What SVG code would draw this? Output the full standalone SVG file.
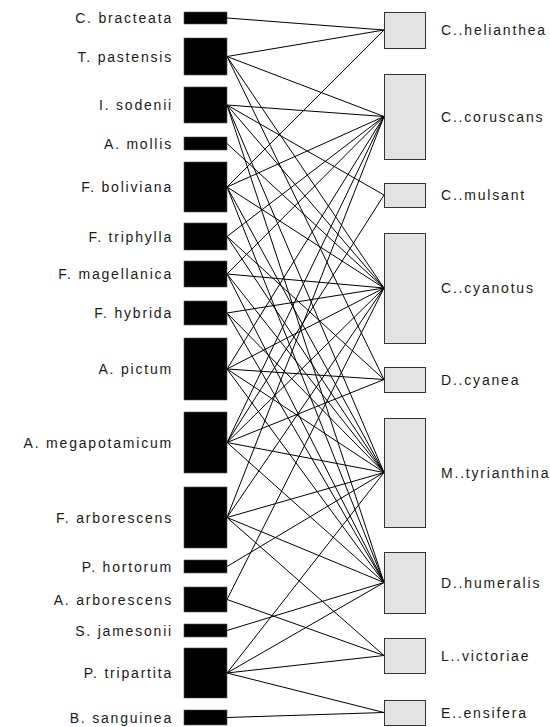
<svg xmlns="http://www.w3.org/2000/svg" width="550" height="727" viewBox="0 0 550 727">
<style>
.bg{fill:#ffffff}
.low rect{fill:#000000;stroke:#555555;stroke-width:0.6}
.high rect{fill:#e3e3e3;stroke:#333333;stroke-width:1}
.lab{font-family:"Liberation Sans",Arial,sans-serif;font-size:14px;letter-spacing:1.8px;fill:#1a1a1a}
.ll{text-anchor:end}
#links line{stroke:#000000;stroke-width:1;fill:none}
</style>
<rect class="bg" x="0" y="0" width="550" height="727"/>
<g id="links">
<line x1="227" y1="18" x2="384" y2="30"/>
<line x1="227" y1="56.5" x2="384" y2="30"/>
<line x1="227" y1="56.5" x2="384" y2="116.5"/>
<line x1="227" y1="56.5" x2="384" y2="288"/>
<line x1="227" y1="56.5" x2="384" y2="379.5"/>
<line x1="227" y1="105" x2="384" y2="116.5"/>
<line x1="227" y1="105" x2="384" y2="195"/>
<line x1="227" y1="105" x2="384" y2="288"/>
<line x1="227" y1="105" x2="384" y2="472.5"/>
<line x1="227" y1="105" x2="384" y2="582.5"/>
<line x1="227" y1="143.5" x2="384" y2="288"/>
<line x1="227" y1="187" x2="384" y2="30"/>
<line x1="227" y1="187" x2="384" y2="116.5"/>
<line x1="227" y1="187" x2="384" y2="288"/>
<line x1="227" y1="187" x2="384" y2="472.5"/>
<line x1="227" y1="187" x2="384" y2="582.5"/>
<line x1="227" y1="236.5" x2="384" y2="116.5"/>
<line x1="227" y1="236.5" x2="384" y2="379.5"/>
<line x1="227" y1="236.5" x2="384" y2="472.5"/>
<line x1="227" y1="274" x2="384" y2="116.5"/>
<line x1="227" y1="274" x2="384" y2="288"/>
<line x1="227" y1="274" x2="384" y2="472.5"/>
<line x1="227" y1="274" x2="384" y2="582.5"/>
<line x1="227" y1="313" x2="384" y2="288"/>
<line x1="227" y1="313" x2="384" y2="472.5"/>
<line x1="227" y1="313" x2="384" y2="582.5"/>
<line x1="227" y1="369" x2="384" y2="116.5"/>
<line x1="227" y1="369" x2="384" y2="288"/>
<line x1="227" y1="369" x2="384" y2="379.5"/>
<line x1="227" y1="369" x2="384" y2="472.5"/>
<line x1="227" y1="369" x2="384" y2="582.5"/>
<line x1="227" y1="442.5" x2="384" y2="116.5"/>
<line x1="227" y1="442.5" x2="384" y2="195"/>
<line x1="227" y1="442.5" x2="384" y2="288"/>
<line x1="227" y1="442.5" x2="384" y2="379.5"/>
<line x1="227" y1="442.5" x2="384" y2="472.5"/>
<line x1="227" y1="442.5" x2="384" y2="582.5"/>
<line x1="227" y1="517.5" x2="384" y2="116.5"/>
<line x1="227" y1="517.5" x2="384" y2="288"/>
<line x1="227" y1="517.5" x2="384" y2="472.5"/>
<line x1="227" y1="517.5" x2="384" y2="582.5"/>
<line x1="227" y1="517.5" x2="384" y2="655.5"/>
<line x1="227" y1="566.5" x2="384" y2="472.5"/>
<line x1="227" y1="599.5" x2="384" y2="288"/>
<line x1="227" y1="599.5" x2="384" y2="655.5"/>
<line x1="227" y1="630.5" x2="384" y2="582.5"/>
<line x1="227" y1="673" x2="384" y2="472.5"/>
<line x1="227" y1="673" x2="384" y2="582.5"/>
<line x1="227" y1="673" x2="384" y2="655.5"/>
<line x1="227" y1="673" x2="384" y2="712.5"/>
<line x1="227" y1="717.5" x2="384" y2="712.5"/>
</g>
<g class="low">
<g id="c-bracteata"><rect x="184" y="12" width="43" height="12"/><text class="lab ll" x="173" y="23">C. bracteata</text></g>
<g id="t-pastensis"><rect x="184" y="38" width="43" height="37"/><text class="lab ll" x="173" y="61.5">T. pastensis</text></g>
<g id="i-sodenii"><rect x="184" y="87" width="43" height="36"/><text class="lab ll" x="173" y="110">I. sodenii</text></g>
<g id="a-mollis"><rect x="184" y="137" width="43" height="13"/><text class="lab ll" x="173" y="148.5">A. mollis</text></g>
<g id="f-boliviana"><rect x="184" y="162" width="43" height="50"/><text class="lab ll" x="173" y="192">F. boliviana</text></g>
<g id="f-triphylla"><rect x="184" y="223" width="43" height="27"/><text class="lab ll" x="173" y="241.5">F. triphylla</text></g>
<g id="f-magellanica"><rect x="184" y="261" width="43" height="26"/><text class="lab ll" x="173" y="279">F. magellanica</text></g>
<g id="f-hybrida"><rect x="184" y="301" width="43" height="24"/><text class="lab ll" x="173" y="318">F. hybrida</text></g>
<g id="a-pictum"><rect x="184" y="338" width="43" height="62"/><text class="lab ll" x="173" y="374">A. pictum</text></g>
<g id="a-megapotamicum"><rect x="184" y="412" width="43" height="61"/><text class="lab ll" x="173" y="447.5">A. megapotamicum</text></g>
<g id="f-arborescens"><rect x="184" y="487" width="43" height="61"/><text class="lab ll" x="173" y="522.5">F. arborescens</text></g>
<g id="p-hortorum"><rect x="184" y="560" width="43" height="13"/><text class="lab ll" x="173" y="571.5">P. hortorum</text></g>
<g id="a-arborescens"><rect x="184" y="587" width="43" height="25"/><text class="lab ll" x="173" y="604.5">A. arborescens</text></g>
<g id="s-jamesonii"><rect x="184" y="624" width="43" height="13"/><text class="lab ll" x="173" y="635.5">S. jamesonii</text></g>
<g id="p-tripartita"><rect x="184" y="648" width="43" height="50"/><text class="lab ll" x="173" y="678">P. tripartita</text></g>
<g id="b-sanguinea"><rect x="184" y="710" width="43" height="15"/><text class="lab ll" x="173" y="722.5">B. sanguinea</text></g>
</g>
<g class="high">
<g id="c-helianthea"><rect x="384.5" y="12.5" width="41" height="36"/><text class="lab" x="441" y="35">C..helianthea</text></g>
<g id="c-coruscans"><rect x="384.5" y="74.5" width="41" height="85"/><text class="lab" x="441" y="121.5">C..coruscans</text></g>
<g id="c-mulsant"><rect x="384.5" y="183.5" width="41" height="24"/><text class="lab" x="441" y="200">C..mulsant</text></g>
<g id="c-cyanotus"><rect x="384.5" y="233.5" width="41" height="110"/><text class="lab" x="441" y="293">C..cyanotus</text></g>
<g id="d-cyanea"><rect x="384.5" y="367.5" width="41" height="25"/><text class="lab" x="441" y="384.5">D..cyanea</text></g>
<g id="m-tyrianthina"><rect x="384.5" y="418.5" width="41" height="109"/><text class="lab" x="441" y="477.5">M..tyrianthina</text></g>
<g id="d-humeralis"><rect x="384.5" y="552.5" width="41" height="61"/><text class="lab" x="441" y="587.5">D..humeralis</text></g>
<g id="l-victoriae"><rect x="384.5" y="638.5" width="41" height="35"/><text class="lab" x="441" y="660.5">L..victoriae</text></g>
<g id="e-ensifera"><rect x="384.5" y="700.5" width="41" height="25"/><text class="lab" x="441" y="717.5">E..ensifera</text></g>
</g>
</svg>
